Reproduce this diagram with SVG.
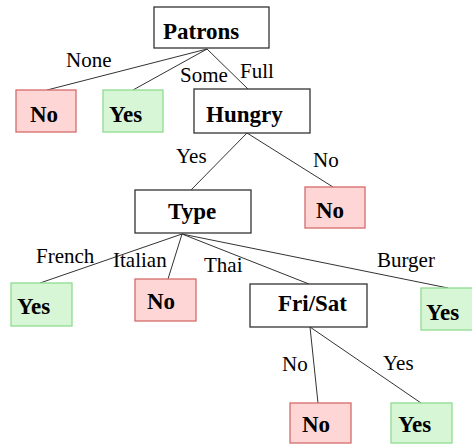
<svg xmlns="http://www.w3.org/2000/svg" width="472" height="445" viewBox="0 0 472 445">
  <style>
    .box { fill: #ffffff; stroke: #333333; stroke-width: 1.3; }
    .no { fill: #ffd6d6; stroke: #d46a6a; stroke-width: 1.3; }
    .yes { fill: #d6f6d6; stroke: #8fdc8f; stroke-width: 1.3; }
    .node { font-family: "Liberation Serif", "Times New Roman", serif; font-weight: bold; font-size: 23px; fill: #000; }
    .edge { stroke: #333333; stroke-width: 1; fill: none; }
    .lbl { font-family: "Liberation Serif", "Times New Roman", serif; font-size: 21px; fill: #000; }
  </style>
  <rect width="472" height="445" fill="#ffffff"/>

  <!-- branches with their attribute values -->
  <g id="connectors">
    <line class="edge" x1="207" y1="49" x2="47" y2="90"/>
    <line class="edge" x1="207" y1="49" x2="133" y2="90"/>
    <line class="edge" x1="207" y1="49" x2="248" y2="89"/>
    <line class="edge" x1="247" y1="133" x2="191" y2="190"/>
    <line class="edge" x1="247" y1="133" x2="333" y2="187"/>
    <line class="edge" x1="182" y1="234" x2="40" y2="283"/>
    <line class="edge" x1="182" y1="234" x2="168" y2="279"/>
    <line class="edge" x1="182" y1="234" x2="309" y2="284"/>
    <line class="edge" x1="182" y1="234" x2="448" y2="288"/>
    <line class="edge" x1="310" y1="327" x2="318" y2="403"/>
    <line class="edge" x1="310" y1="327" x2="421" y2="403"/>
    <text class="lbl" x="66" y="67">None</text>
    <text class="lbl" x="180" y="82">Some</text>
    <text class="lbl" x="240" y="78">Full</text>
    <text class="lbl" x="176" y="163">Yes</text>
    <text class="lbl" x="313" y="167">No</text>
    <text class="lbl" x="36" y="263">French</text>
    <text class="lbl" x="113" y="267">Italian</text>
    <text class="lbl" x="204" y="272">Thai</text>
    <text class="lbl" x="377" y="267">Burger</text>
    <text class="lbl" x="282" y="371">No</text>
    <text class="lbl" x="383" y="370">Yes</text>
  </g>

  <g id="patrons">
    <rect class="box" x="154" y="7" width="115" height="41"/>
    <text class="node" x="163" y="39">Patrons</text>
  </g>
  <g id="patrons-none">
    <rect class="no" x="16" y="90" width="60" height="42"/>
    <text class="node" x="30" y="122">No</text>
  </g>
  <g id="patrons-some">
    <rect class="yes" x="103" y="90" width="60" height="42"/>
    <text class="node" x="109" y="122">Yes</text>
  </g>
  <g id="hungry">
    <rect class="box" x="194" y="89" width="116" height="44"/>
    <text class="node" x="206" y="122">Hungry</text>
  </g>
  <g id="hungry-no">
    <rect class="no" x="305" y="187" width="60" height="41"/>
    <text class="node" x="316" y="218">No</text>
  </g>
  <g id="type">
    <rect class="box" x="135" y="190" width="116" height="43"/>
    <text class="node" x="168" y="219">Type</text>
  </g>
  <g id="type-french">
    <rect class="yes" x="11" y="283" width="61" height="43"/>
    <text class="node" x="17" y="314">Yes</text>
  </g>
  <g id="type-italian">
    <rect class="no" x="135" y="279" width="61" height="42"/>
    <text class="node" x="147" y="309">No</text>
  </g>
  <g id="frisat">
    <rect class="box" x="250" y="284" width="117" height="43"/>
    <text class="node" x="278" y="311">Fri/Sat</text>
  </g>
  <g id="type-burger">
    <rect class="yes" x="421" y="288" width="52" height="42"/>
    <text class="node" x="426" y="320">Yes</text>
  </g>
  <g id="frisat-no">
    <rect class="no" x="290" y="403" width="61" height="40"/>
    <text class="node" x="302" y="432">No</text>
  </g>
  <g id="frisat-yes">
    <rect class="yes" x="391" y="403" width="61" height="40"/>
    <text class="node" x="398" y="432">Yes</text>
  </g>
</svg>
